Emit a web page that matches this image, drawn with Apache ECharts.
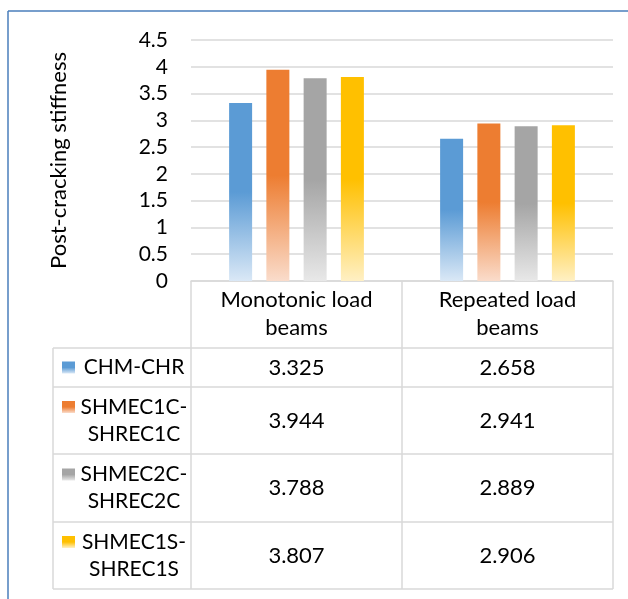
<!DOCTYPE html>
<html><head><meta charset="utf-8">
<script src="https://cdn.jsdelivr.net/npm/echarts@6/dist/echarts.min.js"></script>
<style>html,body{margin:0;padding:0;background:#fff}#c{width:628px;height:599px}</style>
</head><body><div id="c"></div>
<script>
// ---- data ----
const categories = ['Monotonic load beams', 'Repeated load beams'];
const categoryLines = [['Monotonic load', 'beams'], ['Repeated load', 'beams']];
const seriesNames = ['CHM-CHR', 'SHMEC1C-SHREC1C', 'SHMEC2C-SHREC2C', 'SHMEC1S-SHREC1S'];
const legendLines = [['CHM-CHR'], ['SHMEC1C-', 'SHREC1C'], ['SHMEC2C-', 'SHREC2C'], ['SHMEC1S-', 'SHREC1S']];
const chmChr = [3.325, 2.658];
const shmec1c = [3.944, 2.941];
const shmec2c = [3.788, 2.889];
const shmec1s = [3.807, 2.906];
const yMin = 0, yMax = 4.5, yStep = 0.5;
const yTitle = 'Post-cracking stiffness';

// ---- styles ----
const FONT = 'Lato';
const TXT = '#000';
const LINE = '#d9d9d9';
const palette = [['#5B9BD5', '#DAE8F6'], ['#ED7D31', '#FADCCB'], ['#A5A5A5', '#E8E8E8'], ['#FFC000', '#FFF0C4']];
function grad(c) {
  return new echarts.graphic.LinearGradient(0, 0, 0, 1, [
    { offset: 0, color: c[0] }, { offset: 0.5, color: c[0] }, { offset: 1, color: c[1] }
  ]);
}
const seriesData = [chmChr, shmec1c, shmec2c, shmec1s];

const chart = echarts.init(document.getElementById('c'), null, { renderer: 'canvas' });
chart.setOption({
  animation: false,
  backgroundColor: '#fff',
  grid: { left: 191, right: 15, top: 40, bottom: 318 },
  xAxis: {
    type: 'category', data: categories,
    axisLine: { lineStyle: { color: LINE, width: 1.5 } },
    axisTick: { show: false },
    axisLabel: {
      formatter: (v, i) => categoryLines[i].join('\n'),
      fontFamily: FONT, fontSize: 22, color: TXT, lineHeight: 28, margin: 5
    }
  },
  yAxis: {
    type: 'value', min: yMin, max: yMax, interval: yStep,
    name: yTitle, nameLocation: 'middle', nameGap: 121,
    nameTextStyle: { fontFamily: FONT, fontSize: 22, color: TXT },
    axisLine: { show: false }, axisTick: { show: false },
    axisLabel: { fontFamily: FONT, fontSize: 21, color: TXT, margin: 23 },
    splitLine: { lineStyle: { color: LINE, width: 1.5 } }
  },
  series: seriesNames.map((n, i) => ({
    type: 'bar', name: n, data: seriesData[i],
    barWidth: 23, barGap: '62%',
    itemStyle: { color: grad(palette[i]) }
  }))
});

// ---- data table (built from the arrays, positioned via the axes) ----
const y0 = chart.convertToPixel({ yAxisIndex: 0 }, 0);
const cx = categories.map((c, i) => chart.convertToPixel({ xAxisIndex: 0 }, i));
const half = (cx[1] - cx[0]) / 2;
const xL = cx[0] - half, xR = cx[cx.length - 1] + half;
const tableLeft = 53;
const headerH = 67;
const rowH = [39, 67, 68, 67];
const els = [];
const line = (x1, y1, x2, y2, color, w) => els.push({ type: 'line', shape: { x1, y1, x2, y2 }, style: { stroke: color || LINE, lineWidth: w || 1.5 }, silent: true });

let rowTop = y0 + headerH;
const bottom = rowTop + rowH.reduce((a, b) => a + b, 0);
for (let k = 0; k <= categories.length; k++) {
  const x = xL + k * 2 * half;
  line(x, y0, x, bottom);
}
line(tableLeft, rowTop, tableLeft, bottom);
line(tableLeft, rowTop, xR, rowTop);
seriesNames.forEach((n, r) => {
  const h = rowH[r];
  const mid = rowTop + h / 2;
  line(tableLeft, rowTop + h, xR, rowTop + h);
  cx.forEach((x, c) => {
    els.push({ type: 'text', x: x, y: mid, style: { text: String(seriesData[r][c]), fontFamily: FONT, fontSize: 22, fill: TXT, align: 'center', verticalAlign: 'middle' } });
  });
  const lines = legendLines[r];
  const lh = 27;
  const firstY = mid - (lines.length - 1) * lh / 2;
  els.push({ type: 'rect', shape: { x: 62, y: firstY - 6, width: 13, height: 12 }, style: { fill: grad(palette[r]) } });
  els.push({ type: 'text', x: 134, y: mid, style: { text: lines.join('\n'), fontFamily: FONT, fontSize: 21, fill: TXT, align: 'center', verticalAlign: 'middle', lineHeight: lh } });
  rowTop += h;
});
// outer frame (top and left)
line(8, 11, 628, 11, '#4A7EBB', 1.5);
line(8, 11, 8, 599, '#4A7EBB', 1.5);
chart.setOption({ graphic: { elements: els } });
</script>
</body></html>
